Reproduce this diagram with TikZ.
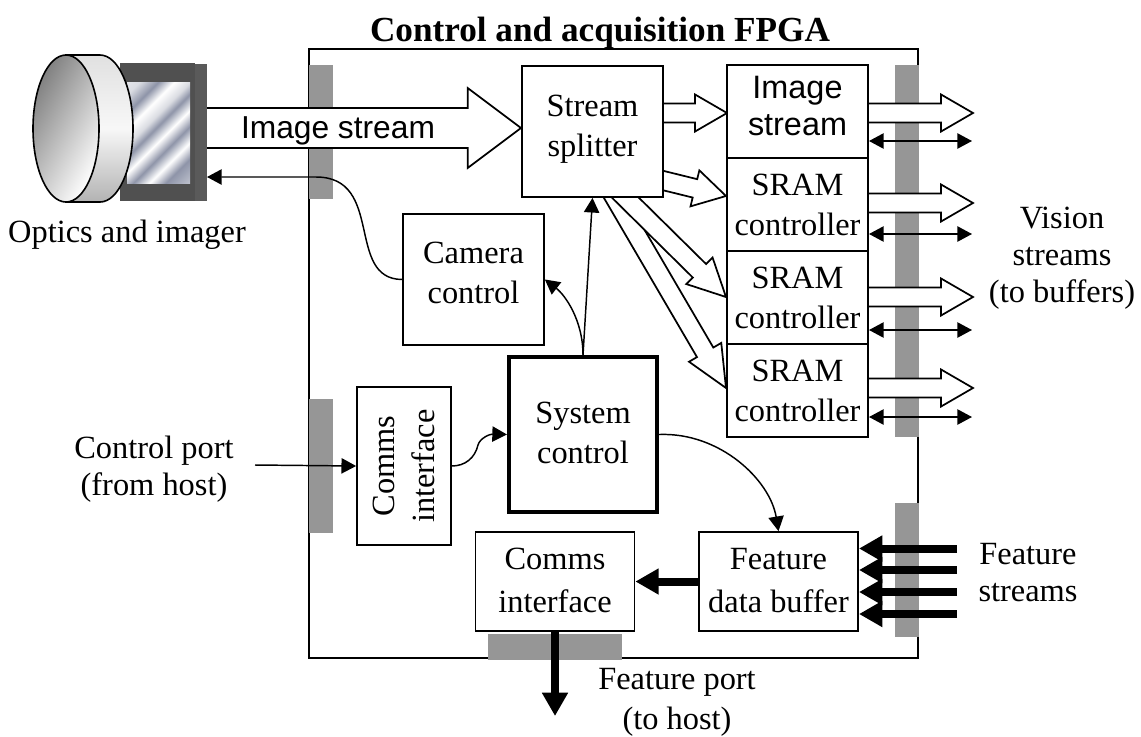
\documentclass[tikz,border=0pt]{standalone}
\usepackage{fontspec}
\setmainfont{Liberation Serif}
\setsansfont{Liberation Sans}
\usetikzlibrary{arrows.meta, calc, backgrounds, shapes.geometric}

\definecolor{portgray}{HTML}{969696}
\definecolor{imgdark}{HTML}{505050}
\definecolor{imgside}{HTML}{5A5A5A}
\definecolor{glassblue}{HTML}{8E94A8}
\definecolor{glasslight}{HTML}{DADCE2}

\pgfdeclarehorizontalshading{glassy}{100bp}{
  color(0bp)=(white); color(20bp)=(glasslight);
  color(28bp)=(glassblue); color(35bp)=(white);
  color(42bp)=(glasslight); color(47bp)=(glassblue);
  color(54bp)=(white); color(61bp)=(glassblue);
  color(68bp)=(white); color(75bp)=(glassblue); color(100bp)=(white)}

\newcommand{\blockarrow}[5]{
  \coordinate (ba) at ($(#2)!#5!(#1)$);
  \draw [blockflow] ($(#1)!#3!90:(#2)$) -- ($(ba)!#3!90:(#2)$) -- ($(ba)!#4!90:(#2)$) -- (#2)
    -- ($(ba)!#4!-90:(#2)$) -- ($(ba)!#3!-90:(#2)$) -- ($(#1)!#3!-90:(#2)$);
}

\begin{document}
\begin{tikzpicture} [x = 0.75pt, y = -0.75pt,
every node/.style = {font = \fontsize{24.3}{30}\selectfont, align = center, inner sep = 0pt},
blockbox/.style = {draw, fill = white, line width = 1.3pt, minimum width = 105.75pt, minimum height = 69.75pt},
widebox/.style = {blockbox, font = \fontsize{24.3}{32}\selectfont, text depth = 2pt, minimum width = 119.25pt, minimum height = 74.25pt},
outerlabel/.style = {font = \fontsize{24.3}{27.75}\selectfont},
portbar/.style = {fill = portgray},
blockflow/.style = {draw, fill = white, line width = 1.3pt, miter limit = 20},
thinflow/.style = {line width = 1.1pt, -{Triangle[length = 11pt, width = 11.5pt]}},
twoway/.style = {line width = 1.1pt, {Triangle[length = 11pt, width = 11.5pt]}-{Triangle[length = 11pt, width = 11.5pt]}},
thickflow/.style = {line width = 6pt, -{Triangle[length = 17.5pt, width = 18.5pt]}}]

\useasboundingbox (0,0) rectangle (1141,736);

\node (title) at (600,33) [font = \fontsize{26.4}{30}\selectfont\bfseries] {Control and acquisition FPGA};

\begin{scope}[on background layer]
\fill [white] (0,0) rectangle (1141,736);
\end{scope}

\node (imgside) at (201,132.5) [fill = imgside, minimum width = 9pt, minimum height = 103pt] {};
\node (imgbody) at (157.5,132) [fill = imgdark, minimum width = 56.5pt, minimum height = 103.5pt] {};
\node (imgglass) at (158.5,132.5) [shade, shading = glassy, shading angle = -45, minimum width = 47.25pt, minimum height = 75.75pt] {};
\path [draw, line width = 1.2pt, top color = black!12, bottom color = black!30, middle color = black!3]
  (66,55) -- (100,55) arc [start angle = -90, end angle = 90, x radius = 33, y radius = 73.5] -- (66,202) -- cycle;
\node (lens) at (66,128.5) [ellipse, draw, line width = 1.2pt, minimum width = 49.5pt, minimum height = 110.25pt, left color = black!50, right color = white, shading angle = 60] {};
\node (optics) at (127,235) {Optics and imager};

\node (split) at (592.5,131.5) [blockbox, minimum height = 98.25pt, text depth = 9pt] {Stream\\splitter};
\node (img) at (797.5,111.5) [blockbox, font = \fontsize{24.3}{27.75}\selectfont\sffamily, text depth = 9pt] {Image\\stream};
\node (sram1) at (797.5,204.5) [blockbox] {SRAM\\controller};
\node (sram2) at (797.5,297.5) [blockbox] {SRAM\\controller};
\node (sram3) at (797.5,390.5) [blockbox] {SRAM\\controller};
\node (cam) at (473.5,279.5) [blockbox, minimum height = 98.25pt, text depth = 10.5pt] {Camera\\control};
\node (syst) at (583,434.5) [blockbox, line width = 3pt, minimum width = 111pt, minimum height = 116pt, text depth = 3pt] {System\\control};
\node (commsv) at (404,466) [blockbox, rotate = 90, minimum width = 118.5pt, minimum height = 70.5pt] {Comms\\interface};
\node (commsh) at (555,581.5) [widebox] {Comms\\interface};
\node (feat) at (778.5,581.5) [widebox] {Feature\\data buffer};

\node (vision) at (1062,258) [outerlabel] {Vision\\streams\\(to buffers)};
\node (ctrl) at (154,469) [outerlabel] {Control port\\(from host)};
\node (fstream) at (1028,573) [outerlabel] {Feature\\streams};
\node (fport) at (677,702) {Feature port\\(to host)};

\coordinate (bigtail) at (207,128);
\coordinate (bigtip) at (521,128);
\coordinate (imgin) at (727,113);
\coordinate (imgout) at (973,113);
\coordinate (out1) at (973,203);
\coordinate (out2) at (973,297);
\coordinate (out3) at (973,388);
\coordinate (tail1) at (650,177.3);
\coordinate (tip1) at (726,196);
\coordinate (tail2) at (610,182.5);
\coordinate (tip2) at (726,297);
\coordinate (tail3) at (605,181);
\coordinate (tip3) at (726,388);

\begin{scope}[on background layer]
\draw [line width = 1.7pt] (309,49) rectangle (918,658);
\fill [portbar] (309,65) rectangle (333,199);
\fill [portbar] (309,399) rectangle (333,533);
\fill [portbar] (895,65) rectangle (919,437);
\fill [portbar] (895,503) rectangle (919,637);
\fill [portbar] (488,634) rectangle (622,660);
\blockarrow{bigtail}{bigtip}{15pt}{30pt}{40pt}
\blockarrow{split.east |- imgin}{imgin}{7.1pt}{13.9pt}{24pt}
\blockarrow{tail1}{tip1}{7.1pt}{13.9pt}{24pt}
\blockarrow{tail3}{tip3}{7.1pt}{14pt}{31pt}
\blockarrow{tail2}{tip2}{7.1pt}{14pt}{28pt}
\blockarrow{img.east |- imgout}{imgout}{7.1pt}{13.9pt}{24pt}
\blockarrow{sram1.east |- out1}{out1}{7.1pt}{13.9pt}{24pt}
\blockarrow{sram2.east |- out2}{out2}{7.1pt}{13.9pt}{24pt}
\blockarrow{sram3.east |- out3}{out3}{7.1pt}{13.9pt}{24pt}
\end{scope}

\node (bigtext) at (338,131) [font = \fontsize{23.8}{30}\selectfont\sffamily] {Image stream};

\coordinate (camtip) at (207,177);
\coordinate (ctrltail) at (255,465);
\coordinate (io0l) at (869,141);
\coordinate (io0r) at (972,141);
\coordinate (io1l) at (869,234);
\coordinate (io1r) at (972,234);
\coordinate (io2l) at (869,330);
\coordinate (io2r) at (972,330);
\coordinate (io3l) at (869,417);
\coordinate (io3r) at (972,417);
\coordinate (fs1) at (957,548.5);
\coordinate (fs2) at (957,570);
\coordinate (fs3) at (957,592);
\coordinate (fs4) at (957,614);
\coordinate (ftip1) at (859,548.5);
\coordinate (ftip2) at (859,570);
\coordinate (ftip3) at (859,592);
\coordinate (ftip4) at (859,614);
\coordinate (fportend) at (555,716);

\path [twoway]
  (io0l) edge (io0r)
  (io1l) edge (io1r)
  (io2l) edge (io2r)
  (io3l) edge (io3r);

\path [thinflow]
  (syst.north) edge (split.south)
  (ctrltail) edge (commsv.north);

\draw [thinflow] (cam.west) .. controls (345,279) and (385,177) .. (316,177) -- (camtip);
\draw [thinflow] (syst.north) .. controls (583,320) and (565,295) .. (cam.east);
\draw [thinflow] (commsv.south) .. controls (465,466) and (475,458) .. (478,445) .. controls (480,438) and (490,434) .. (syst.west);
\draw [thinflow] (syst.east) .. controls (720,432) and (770,480) .. (feat.north);

\path [thickflow]
  (fs1) edge (ftip1)
  (fs2) edge (ftip2)
  (fs3) edge (ftip3)
  (fs4) edge (ftip4)
  (feat.west) edge (commsh.east)
  (commsh.south) edge (fportend);
\end{tikzpicture}
\end{document}
